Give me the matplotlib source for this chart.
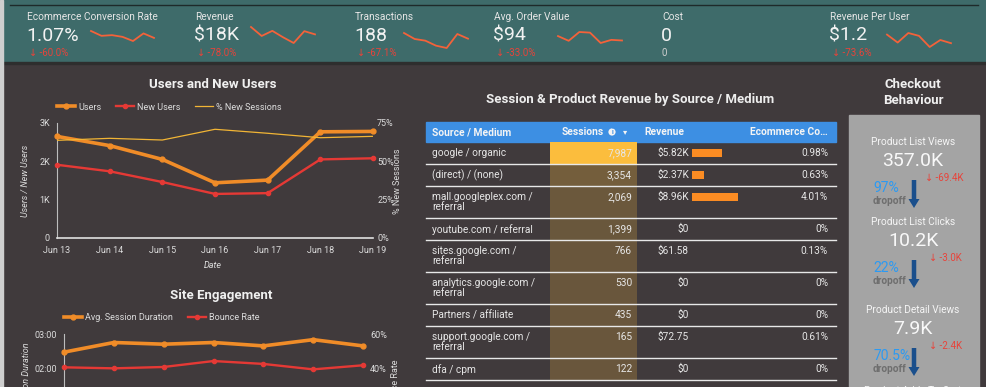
import numpy as np
import matplotlib.pyplot as plt
from matplotlib.patches import Rectangle, FancyArrow, Circle
from matplotlib.ticker import FuncFormatter

plt.rcParams['font.family'] = ['Roboto', 'DejaVu Sans']

W, H = 986, 387
BG = '#403a3c'
TEAL = '#3e6b6a'
TXT = '#e6e6e6'
RED = '#e8433a'
ORANGE = '#f08c28'
NEWRED = '#e53935'
YELLOW = '#f2b535'

# KPI strip
kpi_labels = ['Ecommerce Conversion Rate', 'Revenue', 'Transactions',
              'Avg. Order Value', 'Cost', 'Revenue Per User']
kpi_values = ['1.07%', '$18K', '188', '$94', '0', '$1.2']
kpi_deltas = ['-60.0%', '-78.0%', '-67.1%', '-33.0%', None, '-73.6%']
spark_conv = [29, 15, 17, 12, 0, 22, 9]
spark_rev = [50, 22, 38, 18, 0, 37, 27]
spark_trans = [45, 27, 22, 7, 0, 42, 28]
spark_aov = [35, 20, 48, 46, 13, 23, 21]
spark_rpu = [39, 14, 44, 35, 0, 22, 12]

# Users and New Users
dates = ['Jun 13', 'Jun 14', 'Jun 15', 'Jun 16', 'Jun 17', 'Jun 18', 'Jun 19']
users = [2650, 2410, 2050, 1440, 1510, 2770, 2780]
new_users = [1910, 1740, 1460, 1150, 1170, 2050, 2080]
pct_new_sessions = [63.7, 65.0, 63.9, 70.9, 68.3, 65.4, 66.3]

# Site Engagement
avg_session_sec = [148, 165, 162, 165, 159, 170, 159]
bounce_rate = [40.4, 39.8, 40.6, 44.1, 42.4, 39.2, 41.6]

# table
sources = ['google / organic', '(direct) / (none)', 'mall.googleplex.com /\nreferral',
           'youtube.com / referral', 'sites.google.com /\nreferral',
           'analytics.google.com /\nreferral', 'Partners / affiliate',
           'support.google.com /\nreferral', 'dfa / cpm']
sessions = [7987, 3354, 2069, 1399, 766, 530, 435, 165, 122]
revenue = [5820, 2370, 8960, 0, 61.58, 0, 0, 72.75, 0]
revenue_labels = ['$5.82K', '$2.37K', '$8.96K', '$0', '$61.58', '$0', '$0', '$72.75', '$0']
conv_labels = ['0.98%', '0.63%', '4.01%', '0%', '0.13%', '0%', '0%', '0.61%', '0%']

# checkout funnel
steps = ['Product List Views', 'Product List Clicks', 'Product Detail Views', 'Product Adds To Cart']
step_values = ['357.0K', '10.2K', '7.9K']
step_deltas = ['-69.4K', '-3.0K', '-2.4K']
dropoffs = ['97%', '22%', '70.5%']


def box(l, t, r, b):
    return [l / W, 1 - b / H, (r - l) / W, (b - t) / H]


fig = plt.figure(figsize=(W / 100, H / 100), dpi=100, facecolor=BG)
base = fig.add_axes([0, 0, 1, 1])
base.set_xlim(0, W)
base.set_ylim(H, 0)
base.axis('off')

# backgrounds
base.add_patch(Rectangle((0, 0), W, 63, color=TEAL))
base.add_patch(Rectangle((0, 62), W, 2, color='#2e2e2e'))
base.plot([10, 978], [5, 5], color='#1e2a2a', lw=1)
base.add_patch(Rectangle((0, 0), 2.7, H, color='#cfcfcf'))

# KPIs
kpi_x = [27, 195, 355, 494, 662, 830]
for x, lab, val, d in zip(kpi_x, kpi_labels, kpi_values, kpi_deltas):
    base.text(x, 17, lab, color=TXT, fontsize=7.3, va='center')
    base.text(x - 1, 36, val, color='#f2f2f2', fontsize=14, va='center')
    if d is None:
        base.text(x, 53, '0', color='#cfcfcf', fontsize=7, va='center')
    else:
        base.text(x + 2, 53, '↓ ' + d, color=RED, fontsize=7, va='center')

sparks = [(spark_conv, 91, 154, 31, 41), (spark_rev, 251, 315, 27, 43),
          (spark_trans, 404, 468, 33, 48), (spark_aov, 558, 622, 32, 43),
          (spark_rpu, 887, 951, 33, 47)]
for vals, l, r, t, b in sparks:
    sa = fig.add_axes(box(l, t, r, b))
    sa.plot(range(len(vals)), vals, color='#f4623a', lw=1.3, clip_on=False)
    sa.set_xlim(0, len(vals) - 1)
    sa.set_ylim(min(vals), max(vals))
    sa.axis('off')

leg_kw = dict(frameon=False, fontsize=6.5, labelcolor='#dcdcdc', handlelength=2.0,
              handletextpad=0.35, borderpad=0, borderaxespad=0)

# ---- Users and New Users
base.text(213, 85, 'Users and New Users', color='#f0f0f0', fontsize=9.5,
          fontweight='bold', ha='center', va='center')
ax = fig.add_axes(box(57, 123, 373, 238))
ax.set_facecolor('none')
x = np.arange(len(dates))
l1, = ax.plot(x, users, color=ORANGE, lw=2.6, marker='o', ms=3.5, clip_on=False, label='Users', zorder=3)
l2, = ax.plot(x, new_users, color=NEWRED, lw=1.7, marker='o', ms=3, clip_on=False, label='New Users', zorder=3)
ax.set_xlim(0, 6)
ax.set_ylim(0, 3000)
ax.set_yticks([0, 1000, 2000, 3000])
ax.set_yticklabels(['0', '1K', '2K', '3K'])
ax.set_xticks(x)
ax.set_xticklabels(dates)
ax2 = ax.twinx()
l3, = ax2.plot(x, pct_new_sessions, color=YELLOW, lw=0.9, label='% New Sessions', zorder=2)
ax2.set_ylim(0, 75)
ax2.set_yticks([0, 25, 50, 75])
ax2.set_yticklabels(['0%', '25%', '50%', '75%'])
for a in (ax, ax2):
    for s in a.spines.values():
        s.set_visible(False)
    a.tick_params(colors='#dcdcdc', labelsize=6.5, length=0)
ax.tick_params(axis='y', pad=5)
ax.tick_params(axis='x', pad=6)
ax2.tick_params(axis='y', pad=3)
ax.spines['left'].set_visible(True)
ax.spines['left'].set_color('#bdbdbd')
ax.spines['bottom'].set_visible(True)
ax.spines['bottom'].set_color('#e0e0e0')
ax.spines['bottom'].set_linewidth(1.2)
base.text(25, 181, 'Users / New Users', color='#dcdcdc', fontsize=6.5, style='italic',
          rotation=90, ha='center', va='center')
base.text(398, 181, '% New Sessions', color='#dcdcdc', fontsize=6.5,
          rotation=90, ha='center', va='center')
base.text(213, 265, 'Date', color='#dcdcdc', fontsize=6.5, style='italic', ha='center', va='center')
fig.legend([l1, l2, l3], ['Users', 'New Users', '% New Sessions'], loc='center left',
           bbox_to_anchor=(57 / W, 1 - 107 / H), ncol=3, columnspacing=1.6, **leg_kw)

# ---- Site Engagement
base.text(221, 296, 'Site Engagement', color='#f0f0f0', fontsize=9.5,
          fontweight='bold', ha='center', va='center')
ex = fig.add_axes(box(64, 334, 363, 436))
ex.set_facecolor('none')
e1, = ex.plot(x, avg_session_sec, color=ORANGE, lw=2.6, marker='o', ms=3.5, clip_on=False, zorder=3)
ex.set_xlim(0, 6)
ex.set_ylim(0, 180)
ex.set_yticks([0, 60, 120, 180])
ex.yaxis.set_major_formatter(FuncFormatter(lambda v, p: '%02d:%02d' % (v // 60, v % 60)))
ex.set_xticks([])
ex2 = ex.twinx()
e2, = ex2.plot(x, bounce_rate, color=NEWRED, lw=1.7, marker='o', ms=3, clip_on=False, zorder=3)
ex2.set_ylim(0, 60)
ex2.set_yticks([0, 20, 40, 60])
ex2.set_yticklabels(['0%', '20%', '40%', '60%'])
for a in (ex, ex2):
    for s in a.spines.values():
        s.set_visible(False)
    a.tick_params(colors='#dcdcdc', labelsize=6.5, length=0)
ex.tick_params(axis='y', pad=5)
ex2.tick_params(axis='y', pad=5)
ex.spines['left'].set_visible(True)
ex.spines['left'].set_color('#bdbdbd')
base.text(27, 342, 'Avg. Session Duration', color='#dcdcdc', fontsize=6.5, style='italic',
          rotation=90, ha='center', va='top')
base.text(395, 360, 'Bounce Rate', color='#dcdcdc', fontsize=6.5,
          rotation=90, ha='center', va='top')
fig.legend([e1, e2], ['Avg. Session Duration', 'Bounce Rate'], loc='center left',
           bbox_to_anchor=(64 / W, 1 - 318 / H), ncol=2, columnspacing=1.6, **leg_kw)

# ---- table
base.text(630, 99, 'Session & Product Revenue by Source / Medium', color='#eeeeee',
          fontsize=9.5, fontweight='bold', ha='center', va='center')
base.add_patch(Rectangle((426, 122), 410, 20, color='#3d8fe3'))
hdr_kw = dict(color='#f4f4f4', fontsize=7.4, fontweight='bold', va='center')
base.text(432, 132, 'Source / Medium', **hdr_kw)
base.text(562, 132, 'Sessions', **hdr_kw)
# info icon (filled circle with an i)
base.add_patch(Circle((612, 132), 3.6, color='#f4f4f4', lw=0))
base.text(612, 132.3, 'i', color='#3d8fe3', fontsize=5, fontweight='bold', ha='center', va='center')
base.text(625, 132, '▾', color='#f4f4f4', fontsize=6, va='center', ha='center',
          family=['DejaVu Sans'])
base.text(644, 132, 'Revenue', **hdr_kw)
base.text(750, 132, 'Ecommerce Co…', **hdr_kw)

top = 142
smax = max(sessions)
rmax = max(revenue)
for src, s, rv, rl, cl in zip(sources, sessions, revenue, revenue_labels, conv_labels):
    lines = src.split('\n')
    h = 22 if len(lines) == 1 else 32
    alpha = 0.22 + 0.78 * (s / smax) ** 3
    base.add_patch(Rectangle((550, top), 87, h, color='#fbbd3d', alpha=alpha, lw=0))
    yc = top + 11.3
    for i, ln in enumerate(lines):
        base.text(432, yc + 10 * i, ln, color=TXT, fontsize=7.3, va='center')
    base.text(632, yc, f'{s:,}', color=TXT, fontsize=7.3, va='center', ha='right')
    base.text(689, yc, rl, color=TXT, fontsize=7.3, va='center', ha='right')
    base.barh(yc, rv / rmax * 46, left=692, height=8, color='#fb8c23')
    base.text(828, yc, cl, color=TXT, fontsize=7.3, va='center', ha='right')
    top += h
    base.plot([426, 836], [top, top], color='#e8e8e8', lw=1)

# ---- checkout funnel
base.text(913, 93, 'Checkout\nBehaviour', color='#f0f0f0', fontsize=9.5, fontweight='bold',
          ha='center', va='center', linespacing=1.3)
base.add_patch(Rectangle((849, 115), 130, H - 115, color='#a4a4a4'))
step_y = [142, 222, 310, 391]
for i, (name, yy) in enumerate(zip(steps, step_y)):
    base.text(913, yy, name, color='#f5f5f5', fontsize=7.3, ha='center', va='center')
    if i < len(step_values):
        base.text(913, yy + 19, step_values[i], color='#f8f8f8', fontsize=14, ha='center', va='center')
        base.text(925 + 4 * (i > 0), yy + 36, '↓ ' + step_deltas[i], color=RED, fontsize=7,
                  va='center')
        base.text(873, yy + 46, dropoffs[i], color='#2b9af3', fontsize=10,
                  va='center')
        base.text(873, yy + 59, 'dropoff', color='#6e6e6e', fontsize=7.3, fontweight='bold',
                  va='center')
        base.add_patch(FancyArrow(914, yy + 38, 0, 28, width=4.5, head_width=11, head_length=9,
                                  length_includes_head=True, color='#1a4f8c', lw=0))

fig.savefig('out.png', dpi=100, facecolor=BG)
